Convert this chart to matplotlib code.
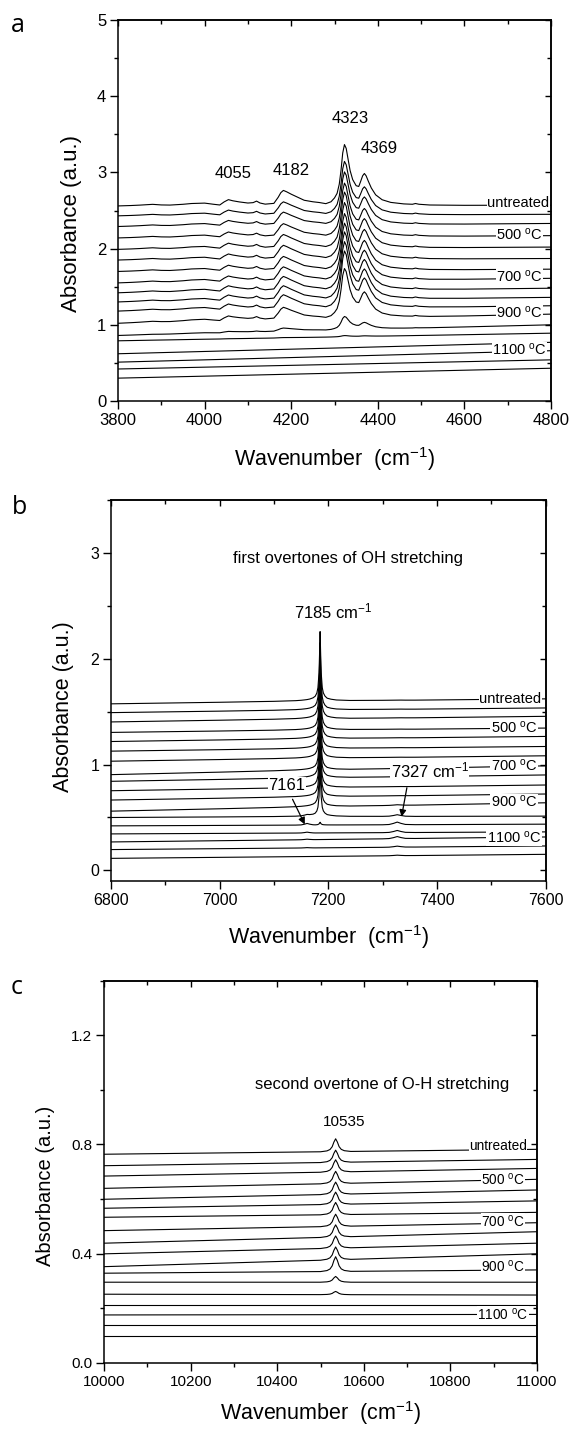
import numpy as np
import matplotlib
matplotlib.use('Agg')
import matplotlib.pyplot as plt
from matplotlib.ticker import MultipleLocator

plt.rcParams['font.family'] = ['Liberation Sans', 'DejaVu Sans']
plt.rcParams['mathtext.fontset'] = 'custom'
plt.rcParams['mathtext.rm'] = 'Liberation Sans'
plt.rcParams['mathtext.it'] = 'Liberation Sans:italic'
plt.rcParams['mathtext.bf'] = 'Liberation Sans:bold'

# -----------------------------
# Data
# -----------------------------
# 18 spectra: untreated, 400 ... 1200 C in 50 C steps
temps = ['untreated'] + [str(t) for t in range(400, 1201, 50)]
label_idx = [0, 3, 7, 11, 15]          # untreated, 500, 700, 900, 1100

# panel a: shape of the top trace above its baseline
a_x = [3800, 3830, 3850, 3880, 3900, 3920, 3950, 3970, 4000, 4020, 4035, 4045,
       4055, 4065, 4080, 4100, 4112, 4120, 4128, 4140, 4160, 4170, 4176, 4182,
       4190, 4200, 4215, 4230, 4250, 4265, 4280, 4292, 4300, 4306, 4311, 4315,
       4319, 4323, 4327, 4331, 4336, 4342, 4350, 4356, 4360, 4365, 4369, 4373,
       4378, 4385, 4395, 4410, 4430, 4460, 4480, 4487, 4495, 4520, 4600, 4800]
a_shape = [0.0, 0.005, 0.01, 0.02, 0.012, 0.01, 0.02, 0.03, 0.035, 0.02, 0.01, 0.05,
           0.08, 0.065, 0.05, 0.035, 0.04, 0.06, 0.035, 0.02, 0.03, 0.11, 0.17, 0.20,
           0.18, 0.15, 0.11, 0.07, 0.05, 0.04, 0.025, 0.05, 0.10, 0.16, 0.28, 0.46,
           0.69, 0.80, 0.75, 0.62, 0.46, 0.34, 0.26, 0.25, 0.31, 0.39, 0.42, 0.39,
           0.32, 0.23, 0.14, 0.075, 0.04, 0.02, 0.015, 0.025, 0.015, 0.005, 0.0, 0.0]
a_left = [2.56, 2.43, 2.29, 2.14, 1.99, 1.85, 1.70, 1.55, 1.42, 1.30, 1.18, 1.02,
          0.86, 0.79, 0.62, 0.51, 0.42, 0.30]
a_right = [2.57, 2.45, 2.33, 2.17, 2.02, 1.87, 1.73, 1.61, 1.48, 1.36, 1.25, 1.14,
           1.00, 0.89, 0.77, 0.66, 0.54, 0.43]
a_scale = [1.0, 0.88, 0.87, 0.88, 0.92, 0.93, 0.93, 0.94, 0.96, 0.95, 0.94, 0.82,
           0.22, 0.02, 0, 0, 0, 0]
a_peaks = ['4055', '4182', '4323', '4369']
a_peak_pos = [(4067, 2.99), (4199, 3.02), (4336, 3.71), (4404, 3.32)]
a_lab_y = [2.60, 2.19, 1.63, 1.155, 0.67]

# panel b
b_x = [6800, 7000, 7100, 7140, 7150, 7156, 7161, 7166, 7172, 7176, 7179, 7181,
       7183, 7184, 7185, 7186, 7187, 7189, 7191, 7194, 7198, 7205, 7215, 7240,
       7300, 7312, 7320, 7327, 7334, 7342, 7360, 7600]
b_main = [0, 0.003, 0.006, 0.01, 0.013, 0.016, 0.019, 0.024, 0.035, 0.05, 0.08, 0.13,
          0.27, 0.45, 0.66, 0.45, 0.27, 0.13, 0.08, 0.05, 0.03, 0.02, 0.012, 0.006,
          0.004, 0.004, 0.004, 0.004, 0.004, 0.003, 0.002, 0]
b_bump1 = [0, 0, 0, 0, 0.1, 0.5, 1.0, 0.5, 0.1, 0, 0, 0,
           0, 0, 0, 0, 0, 0, 0, 0, 0, 0, 0, 0,
           0, 0, 0, 0, 0, 0, 0, 0]
b_bump2 = [0, 0, 0, 0, 0, 0, 0, 0, 0, 0, 0, 0,
           0, 0, 0, 0, 0, 0, 0, 0, 0, 0, 0, 0,
           0, 0.1, 0.5, 1.0, 0.5, 0.1, 0, 0]
b_left = [1.574, 1.491, 1.403, 1.304, 1.218, 1.127, 1.032, 0.905, 0.842, 0.753, 0.665,
          0.560, 0.500, 0.421, 0.345, 0.269, 0.197, 0.114]
b_right = [1.621, 1.535, 1.456, 1.345, 1.266, 1.171, 1.083, 0.988, 0.902, 0.807, 0.722,
           0.639, 0.513, 0.437, 0.364, 0.316, 0.231, 0.152]
b_scale = [1.0, 0.97, 0.96, 0.95, 0.94, 0.93, 0.92, 0.91, 0.90, 0.89, 0.88, 0.86,
           0.70, 0.04, 0, 0, 0, 0]
b_h7161 = [0] * 12 + [0.01, 0.015, 0.008, 0.005, 0.003, 0]
b_h7327 = [0] * 11 + [0.005, 0.015, 0.025, 0.02, 0.02, 0.01, 0.005]
b_lab_y = [1.62, 1.352, 0.99, 0.646, 0.312]

# panel c
c_x = [10000, 10300, 10500, 10515, 10522, 10527, 10531, 10535, 10539, 10543,
       10548, 10555, 10570, 10700, 11000]
c_shape = [0, 0, 0, 0.003, 0.008, 0.018, 0.035, 0.047, 0.035, 0.018,
           0.008, 0.003, 0, 0, 0]
c_left = [0.764, 0.722, 0.684, 0.639, 0.599, 0.566, 0.533, 0.484, 0.438, 0.399, 0.352,
          0.328, 0.295, 0.251, 0.212, 0.175, 0.138, 0.098]
c_right = [0.782, 0.745, 0.712, 0.672, 0.633, 0.593, 0.551, 0.513, 0.480, 0.438, 0.399,
           0.340, 0.295, 0.248, 0.212, 0.177, 0.138, 0.098]
c_scale = [1.0, 0.95, 0.95, 0.95, 0.95, 0.95, 0.95, 0.95, 0.95, 0.95, 1.0, 1.15,
           0.45, 0.25, 0, 0, 0, 0]
c_lab_y = [0.794, 0.672, 0.517, 0.352, 0.177]


def lab_text(i):
    if i == 0:
        return 'untreated'
    return temps[i] + r' $^{\mathrm{o}}$C'


def baseline(x, left, right):
    x = np.asarray(x, dtype=float)
    return left + (right - left) * (x - x[0]) / (x[-1] - x[0])


def style_axes(ax, xmaj, xmin, ymaj, ymin, fs):
    for s in ax.spines.values():
        s.set_linewidth(1.1)
    ax.xaxis.set_major_locator(MultipleLocator(xmaj))
    ax.xaxis.set_minor_locator(MultipleLocator(xmin))
    ax.yaxis.set_major_locator(MultipleLocator(ymaj))
    ax.yaxis.set_minor_locator(MultipleLocator(ymin))
    ax.tick_params(which='major', direction='out', length=5.5, width=1, labelsize=fs, pad=3)
    ax.tick_params(which='minor', direction='out', length=3, width=1)
    top = ax.secondary_xaxis('top')
    top.xaxis.set_major_locator(MultipleLocator(xmaj))
    top.xaxis.set_minor_locator(MultipleLocator(xmin))
    top.tick_params(which='major', direction='in', length=4, width=1, labeltop=False)
    top.tick_params(which='minor', direction='in', length=3, width=1)
    top.spines['top'].set_linewidth(1.1)
    right = ax.secondary_yaxis('right')
    right.yaxis.set_major_locator(MultipleLocator(ymaj))
    right.yaxis.set_minor_locator(MultipleLocator(ymin))
    right.tick_params(which='major', direction='in', length=4, width=1, labelright=False)
    right.tick_params(which='minor', direction='in', length=3, width=1)
    right.spines['right'].set_linewidth(1.1)


W, H = 571, 1429
fig = plt.figure(figsize=(W / 100, H / 100), dpi=100)


def add_axes(l, r, t, b):
    return fig.add_axes([l / W, 1 - b / H, (r - l) / W, (b - t) / H])


lab_box = dict(fc='white', ec='none', pad=0.3)
line_kw = dict(color='black', lw=0.8)

# -----------------------------
# Panel a
# -----------------------------
ax = add_axes(118, 551, 20, 401)
for i in range(len(temps)):
    y = baseline(a_x, a_left[i], a_right[i]) + a_scale[i] * np.array(a_shape)
    ax.plot(a_x, y, **line_kw)
ax.set_xlim(3800, 4800)
ax.set_ylim(0, 5)
style_axes(ax, 200, 100, 1, 0.5, 12)
for txt, (px, py) in zip(a_peaks, a_peak_pos):
    ax.text(px, py, txt, ha='center', va='center', fontsize=12)
for k, i in enumerate(label_idx):
    if i == 0:
        ax.text(4796, a_lab_y[k], lab_text(i), ha='right', va='center', fontsize=10.5,
                bbox=lab_box, zorder=5)
    else:
        ax.text(4727, a_lab_y[k], lab_text(i), ha='center', va='center', fontsize=10.5,
                bbox=lab_box, zorder=5)
ax.text(-0.108, 0.465, 'Absorbance (a.u.)', transform=ax.transAxes, rotation=90,
        ha='center', va='center', fontsize=16)
ax.text(0.5, -0.152, r'Wavenumber  (cm$^{-1}$)', transform=ax.transAxes,
        ha='center', va='center', fontsize=15.5)
fig.text(18 / W, 1 - 25 / H, 'a', fontsize=18, ha='center', va='center',
         family=['Open Sans', 'DejaVu Sans'])

# -----------------------------
# Panel b
# -----------------------------
ax = add_axes(111, 545.5, 500, 881)
for i in range(len(temps)):
    y = (baseline(b_x, b_left[i], b_right[i]) + b_scale[i] * np.array(b_main)
         + b_h7161[i] * np.array(b_bump1) + b_h7327[i] * np.array(b_bump2))
    ax.plot(b_x, y, **line_kw)
ax.set_xlim(6800, 7600)
ax.set_ylim(-0.1, 3.5)
style_axes(ax, 200, 100, 1, 0.5, 11.5)
ax.text(7025, 2.95, 'first overtones of OH stretching', ha='left', va='center', fontsize=12)
ax.text(7209, 2.45, r'7185 cm$^{-1}$', ha='center', va='center', fontsize=12)
ax.text(7124, 0.807, '7161', ha='center', va='center', fontsize=12, bbox=lab_box, zorder=5)
ax.text(7387, 0.94, r'7327 cm$^{-1}$', ha='center', va='center', fontsize=12,
        bbox=lab_box, zorder=5)
ax.annotate('', xy=(7159, 0.411), xytext=(7132, 0.696),
            arrowprops=dict(arrowstyle='-|>', color='black', lw=0.9, mutation_scale=10))
ax.annotate('', xy=(7334, 0.481), xytext=(7345.7, 0.807),
            arrowprops=dict(arrowstyle='-|>', color='black', lw=0.9, mutation_scale=10))
for k, i in enumerate(label_idx):
    if i == 0:
        ax.text(7592, b_lab_y[k], lab_text(i), ha='right', va='center', fontsize=10.5,
                bbox=lab_box, zorder=5)
    else:
        ax.text(7542, b_lab_y[k], lab_text(i), ha='center', va='center', fontsize=10.5,
                bbox=lab_box, zorder=5)
ax.text(-0.109, 0.457, 'Absorbance (a.u.)', transform=ax.transAxes, rotation=90,
        ha='center', va='center', fontsize=15.5)
ax.text(0.5, -0.148, r'Wavenumber  (cm$^{-1}$)', transform=ax.transAxes,
        ha='center', va='center', fontsize=15.5)
fig.text(20 / W, 1 - 507 / H, 'b', fontsize=18, ha='center', va='center',
         family=['Open Sans', 'DejaVu Sans'])

# -----------------------------
# Panel c
# -----------------------------
ax = add_axes(104.2, 536.8, 980.7, 1362.7)
for i in range(len(temps)):
    y = baseline(c_x, c_left[i], c_right[i]) + c_scale[i] * np.array(c_shape)
    ax.plot(c_x, y, **line_kw)
ax.set_xlim(10000, 11000)
ax.set_ylim(0, 1.4)
style_axes(ax, 200, 100, 0.4, 0.2, 11)
ax.yaxis.set_major_formatter(matplotlib.ticker.FormatStrFormatter('%.1f'))
ax.text(10349, 1.018, 'second overtone of O-H stretching', ha='left', va='center', fontsize=12)
ax.text(10555, 0.883, '10535', ha='center', va='center', fontsize=11)
for k, i in enumerate(label_idx):
    if i == 0:
        ax.text(10977, c_lab_y[k], lab_text(i), ha='right', va='center', fontsize=9.8,
                bbox=lab_box, zorder=5)
    else:
        ax.text(10922, c_lab_y[k], lab_text(i), ha='center', va='center', fontsize=9.8,
                bbox=lab_box, zorder=5)
ax.text(-0.1355, 0.463, 'Absorbance (a.u.)', transform=ax.transAxes, rotation=90,
        ha='center', va='center', fontsize=14.5)
ax.text(0.5, -0.133, r'Wavenumber  (cm$^{-1}$)', transform=ax.transAxes,
        ha='center', va='center', fontsize=15.5)
fig.text(16.4 / W, 1 - 988 / H, 'c', fontsize=18, ha='center', va='center',
         family=['Open Sans', 'DejaVu Sans'])

fig.savefig('out.png', dpi=100)
